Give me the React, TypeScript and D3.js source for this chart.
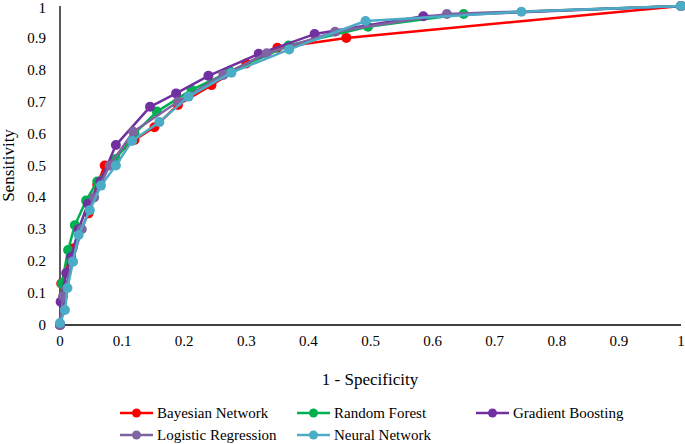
import React from "react";
import * as d3 from "d3";

const xTicks = [0, 0.1, 0.2, 0.3, 0.4, 0.5, 0.6, 0.7, 0.8, 0.9, 1];
const yTicks = [0, 0.1, 0.2, 0.3, 0.4, 0.5, 0.6, 0.7, 0.8, 0.9, 1];

const bayesian: [number, number][] = [[0,0],[0.002,0.13],[0.02,0.24],[0.046,0.35],[0.06,0.44],[0.072,0.50],[0.12,0.58],[0.152,0.62],[0.19,0.69],[0.244,0.752],[0.30,0.82],[0.35,0.869],[0.461,0.90],[1,1]];
const randomForest: [number, number][] = [[0,0],[0.003,0.13],[0.013,0.235],[0.024,0.313],[0.042,0.39],[0.06,0.45],[0.09,0.52],[0.12,0.60],[0.156,0.669],[0.212,0.737],[0.274,0.795],[0.368,0.876],[0.496,0.935],[0.65,0.975],[1,1]];
const gradientBoosting: [number, number][] = [[0,0],[0.001,0.073],[0.01,0.163],[0.018,0.213],[0.03,0.30],[0.045,0.38],[0.065,0.45],[0.09,0.564],[0.145,0.684],[0.187,0.726],[0.239,0.781],[0.32,0.85],[0.41,0.912],[0.585,0.968],[1,1]];
const logistic: [number, number][] = [[0,0],[0.005,0.09],[0.02,0.2],[0.035,0.30],[0.055,0.40],[0.08,0.50],[0.118,0.606],[0.19,0.70],[0.263,0.784],[0.333,0.852],[0.443,0.919],[0.623,0.975],[1,1]];
const neural: [number, number][] = [[0,0.006],[0.008,0.047],[0.012,0.116],[0.021,0.198],[0.030,0.282],[0.048,0.36],[0.066,0.437],[0.09,0.50],[0.116,0.577],[0.16,0.636],[0.207,0.716],[0.276,0.791],[0.369,0.864],[0.492,0.953],[0.743,0.982],[1,1]];

const seriesNames = ["Bayesian Network", "Random Forest", "Gradient Boosting", "Logistic Regression", "Neural Network"];
const seriesColors = ["#ff0000", "#00b050", "#7030a0", "#8064a2", "#4bacc6"];
const seriesData = [bayesian, randomForest, gradientBoosting, logistic, neural];

export default function App() {
  const W = 685, H = 444;
  const left = 60, right = 681, top = 6, bottom = 325;
  const x = d3.scaleLinear().domain([0, 1]).range([left, right]);
  const y = d3.scaleLinear().domain([0, 1]).range([bottom, top]);
  const line = d3.line<[number, number]>().x(d => x(d[0])).y(d => y(d[1]));
  const fontStyle = { fontFamily: 'Times New Roman, Times, Liberation Serif, DejaVu Serif, Noto Serif, serif' };
  const legendPos = [
    [120, 413], [297, 413], [476, 413],
    [120, 435], [297, 435],
  ];
  return (
    <svg width={W} height={H} style={{ position: "absolute", left: 0, top: 0, background: "#fff" }}>
      <line x1={left} x2={left} y1={top} y2={bottom} stroke="#000" strokeWidth={1.3} />
      <line x1={left} x2={right} y1={bottom} y2={bottom} stroke="#000" strokeWidth={1.3} />
      {yTicks.map(t => (
        <text key={"y" + t} x={46} y={Math.max(y(t) + 5, 13)} textAnchor="end" fontSize={15} fill="#000" style={fontStyle}>{String(t)}</text>
      ))}
      {xTicks.map(t => (
        <text key={"x" + t} x={x(t)} y={346} textAnchor="middle" fontSize={15} fill="#000" style={fontStyle}>{String(t)}</text>
      ))}
      <text x={370} y={385} textAnchor="middle" fontSize={17} fill="#000" style={fontStyle}>1 - Specificity</text>
      <text transform={`translate(14,${(top + bottom) / 2}) rotate(-90)`} textAnchor="middle" fontSize={17} fill="#000" style={fontStyle}>Sensitivity</text>
      {seriesData.map((data, i) => (
        <g key={seriesNames[i]}>
          <path d={line(data) || ""} fill="none" stroke={seriesColors[i]} strokeWidth={2.5} strokeLinejoin="round" />
          {data.map((d, j) => (
            <circle key={j} cx={x(d[0])} cy={y(d[1])} r={5} fill={seriesColors[i]} />
          ))}
        </g>
      ))}
      {seriesNames.map((n, i) => (
        <g key={"leg" + n} transform={`translate(${legendPos[i][0]},${legendPos[i][1]})`}>
          <line x1={0} x2={33} y1={0} y2={0} stroke={seriesColors[i]} strokeWidth={2.5} />
          <circle cx={16.5} cy={0} r={4.5} fill={seriesColors[i]} />
          <text x={37} y={5} fontSize={15} fill="#000" style={fontStyle}>{n}</text>
        </g>
      ))}
    </svg>
  );
}
